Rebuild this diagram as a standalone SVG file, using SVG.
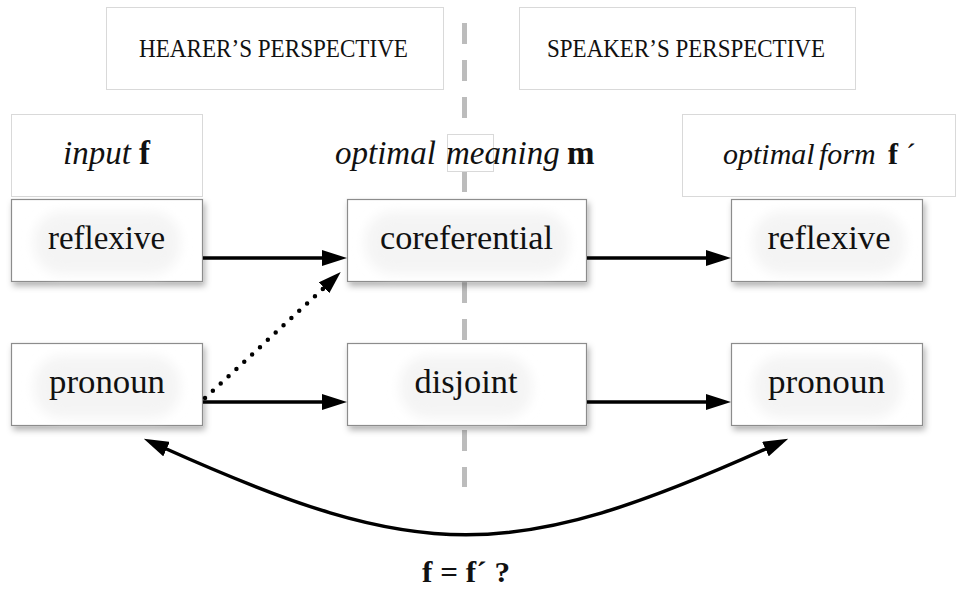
<svg xmlns="http://www.w3.org/2000/svg" width="959" height="592" viewBox="0 0 959 592">
<defs>
<filter id="shadow" x="-10%" y="-10%" width="130%" height="140%">
<feDropShadow dx="2" dy="4" stdDeviation="3" flood-color="#000" flood-opacity="0.3"/>
</filter>
<filter id="glow" x="-20%" y="-40%" width="140%" height="180%">
<feGaussianBlur stdDeviation="6"/>
</filter>
<marker id="arr" viewBox="0 0 25 16" refX="5" refY="8" markerWidth="25" markerHeight="16" markerUnits="userSpaceOnUse" orient="auto-start-reverse">
<path d="M0,0 L25,8 L0,16 z" fill="#000"/>
</marker>
<marker id="arrs" viewBox="0 0 23 15" refX="4" refY="7.5" markerWidth="23" markerHeight="15" markerUnits="userSpaceOnUse" orient="auto-start-reverse">
<path d="M0,0 L23,7.5 L0,15 z" fill="#000"/>
</marker>
</defs>
<style>
.hdr{fill:#fff;stroke:#d9d9d9;stroke-width:1}
.node{fill:#fff;stroke:#8c8c8c;stroke-width:1.2;filter:url(#shadow)}
.blob{fill:#f4f4f4;filter:url(#glow)}
.cap{font-family:"Liberation Serif","Times New Roman",serif;font-size:25px;fill:#111;text-anchor:middle}
.lbl{font-family:"Liberation Serif","Times New Roman",serif;font-size:34px;fill:#111;text-anchor:middle}
.col{font-family:"Liberation Serif","Times New Roman",serif;font-size:33px;fill:#111}
.col2{font-family:"Liberation Serif","Times New Roman",serif;font-size:30px;fill:#111}
.it{font-style:italic}
.bd{font-weight:bold}
.ln{fill:none;stroke:#000;stroke-width:3.5}
.dot{fill:none;stroke:#000;stroke-width:4.5;stroke-linecap:round;stroke-dasharray:0 10.7}
</style>
<rect width="959" height="592" fill="#fff"/>
<line id="divider" x1="464.5" y1="23" x2="464.5" y2="487" stroke="#bcbcbc" stroke-width="5" stroke-dasharray="21 16"/>
<g id="hearer">
<rect class="hdr" x="106.5" y="7.5" width="337" height="82"/>
<text class="cap" x="273.5" y="57" textLength="269" lengthAdjust="spacingAndGlyphs">HEARER’S PERSPECTIVE</text>
</g>
<g id="speaker">
<rect class="hdr" x="519.5" y="7.5" width="336" height="82"/>
<text class="cap" x="686" y="57" textLength="278" lengthAdjust="spacingAndGlyphs">SPEAKER’S PERSPECTIVE</text>
</g>
<g id="col-input">
<rect class="hdr" x="11.5" y="114.5" width="191" height="82"/>
<text class="col" y="164"><tspan class="it" x="63">input</tspan><tspan class="bd" x="139">f</tspan></text>
</g>
<g id="col-meaning">
<rect class="hdr" x="447.5" y="134.5" width="46" height="37"/>
<text class="col" y="164"><tspan class="it" x="335">optimal</tspan><tspan class="it" x="446">meaning</tspan><tspan class="bd" x="567">m</tspan></text>
</g>
<g id="col-form">
<rect class="hdr" x="682.5" y="114.5" width="273" height="82"/>
<text class="col2" y="164"><tspan class="it" x="723">optimal</tspan><tspan class="it" x="819">form</tspan><tspan class="bd" x="888">f</tspan><tspan x="906">´</tspan></text>
</g>
<g id="reflexive-in">
<rect class="node" x="11.5" y="199.5" width="191" height="82"/>
<rect class="blob" x="34" y="212" width="146" height="62" rx="28"/>
<text class="lbl" x="106.5" y="249" textLength="117" lengthAdjust="spacingAndGlyphs">reflexive</text>
</g>
<g id="coreferential">
<rect class="node" x="347.5" y="199.5" width="239" height="82"/>
<rect class="blob" x="365" y="212" width="204" height="62" rx="28"/>
<text class="lbl" x="466.5" y="249" textLength="173" lengthAdjust="spacingAndGlyphs">coreferential</text>
</g>
<g id="reflexive-out">
<rect class="node" x="731.5" y="199.5" width="191" height="82"/>
<rect class="blob" x="753" y="212" width="152" height="62" rx="28"/>
<text class="lbl" x="829" y="249" textLength="123" lengthAdjust="spacingAndGlyphs">reflexive</text>
</g>
<g id="pronoun-in">
<rect class="node" x="11.5" y="343.5" width="191" height="82"/>
<rect class="blob" x="34" y="356" width="146" height="62" rx="28"/>
<text class="lbl" x="107" y="393" textLength="116" lengthAdjust="spacingAndGlyphs">pronoun</text>
</g>
<g id="disjoint">
<rect class="node" x="347.5" y="343.5" width="239" height="82"/>
<rect class="blob" x="400" y="356" width="132" height="62" rx="28"/>
<text class="lbl" x="466" y="393" textLength="103" lengthAdjust="spacingAndGlyphs">disjoint</text>
</g>
<g id="pronoun-out">
<rect class="node" x="731.5" y="343.5" width="191" height="82"/>
<rect class="blob" x="753" y="356" width="148" height="62" rx="28"/>
<text class="lbl" x="826.5" y="393" textLength="117" lengthAdjust="spacingAndGlyphs">pronoun</text>
</g>
<g id="connectors">
<line class="ln" x1="203" y1="258" x2="327" y2="258" marker-end="url(#arr)"/>
<line class="ln" x1="587" y1="258" x2="711" y2="258" marker-end="url(#arr)"/>
<line class="ln" x1="203" y1="402" x2="327" y2="402" marker-end="url(#arr)"/>
<line class="ln" x1="587" y1="402" x2="711" y2="402" marker-end="url(#arr)"/>
<line class="dot" x1="205" y1="398" x2="324.3" y2="287.6"/>
<path d="M322.7,289.1 L327,285" class="ln" stroke-width="1" marker-end="url(#arrs)"/>
<path class="ln" d="M162,447 C422,564 510,564 770,447" marker-start="url(#arr)" marker-end="url(#arr)"/>
</g>
<text id="question" x="466" y="582" font-family="'Liberation Serif','Times New Roman',serif" font-size="29" font-weight="bold" text-anchor="middle" textLength="88" lengthAdjust="spacingAndGlyphs" fill="#111">f = f´ ?</text>
</svg>
